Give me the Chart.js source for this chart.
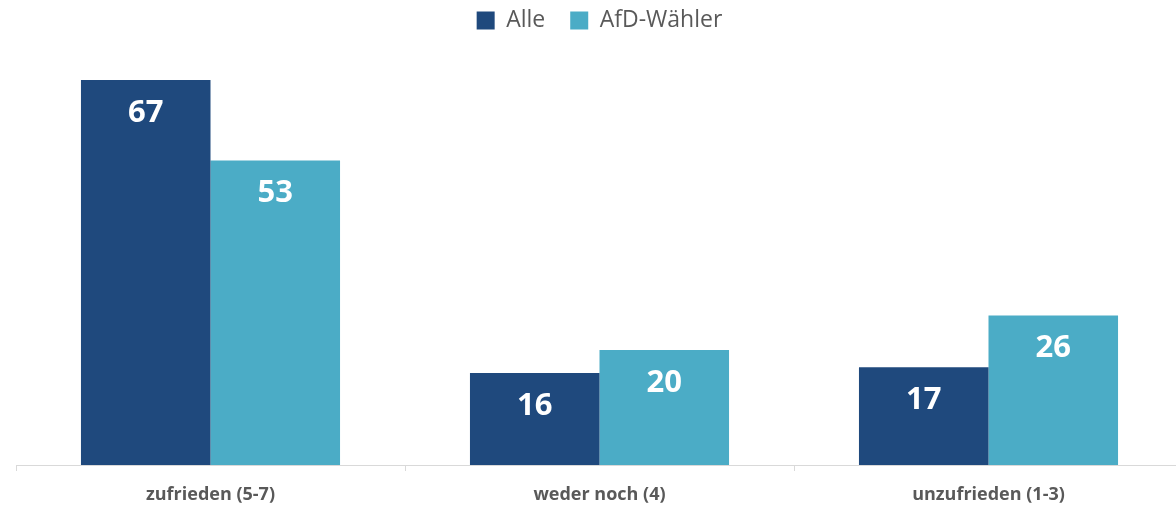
<!DOCTYPE html>
<html>
<head>
<meta charset="utf-8">
<script src="https://cdn.jsdelivr.net/npm/chart.js@4/dist/chart.umd.min.js"></script>
<style>
  html, body { margin: 0; padding: 0; background: #fff; overflow: hidden; }
  #wrap { width: 1184px; height: 506px; position: relative; }
</style>
</head>
<body>
<div id="wrap"><canvas id="chart"></canvas></div>
<script>
const categories = ['zufrieden (5-7)', 'weder noch (4)', 'unzufrieden (1-3)'];
const seriesNames = ['Alle', 'AfD-Wähler'];
const alleValues = [67, 16, 17];
const afdValues = [53, 20, 26];

// value labels drawn inside the top of each bar
const barLabels = {
  id: 'barLabels',
  afterDatasetsDraw(chart) {
    const ctx = chart.ctx;
    ctx.save();
    ctx.fillStyle = '#ffffff';
    ctx.font = 'bold 31px "Open Sans"';
    ctx.textAlign = 'center';
    ctx.textBaseline = 'middle';
    chart.data.datasets.forEach((ds, i) => {
      chart.getDatasetMeta(i).data.forEach((bar, j) => {
        ctx.fillText(ds.data[j], bar.x, bar.y + 33);
      });
    });
    ctx.restore();
  }
};

new Chart(document.getElementById('chart'), {
  type: 'bar',
  data: {
    labels: categories,
    datasets: [
      { label: seriesNames[0], data: alleValues, backgroundColor: '#1f497d' },
      { label: seriesNames[1], data: afdValues, backgroundColor: '#4bacc6' }
    ]
  },
  options: {
    responsive: true,
    maintainAspectRatio: false,
    animation: false,
    layout: { padding: { left: 16, right: 1, top: -16, bottom: 0 } },
    datasets: {
      bar: { categoryPercentage: 0.666, barPercentage: 1.0 }
    },
    plugins: {
      legend: {
        position: 'top',
        labels: {
          color: '#595959',
          font: { family: 'Open Sans', size: 23 },
          boxWidth: 18,
          boxHeight: 18,
          padding: 25
        }
      },
      tooltip: { enabled: false }
    },
    scales: {
      x: {
        afterFit(scale) { scale.height = 41; },
        grid: {
          offset: true,
          drawOnChartArea: false,
          color: '#d9d9d9',
          tickLength: 6
        },
        border: { color: '#d9d9d9', width: 1 },
        ticks: {
          color: '#595959',
          font: { family: 'Open Sans', size: 18, weight: 'bold' },
          padding: 13
        }
      },
      y: {
        display: false,
        min: 0,
        max: 73.6
      }
    }
  },
  plugins: [barLabels]
});
</script>
</body>
</html>
